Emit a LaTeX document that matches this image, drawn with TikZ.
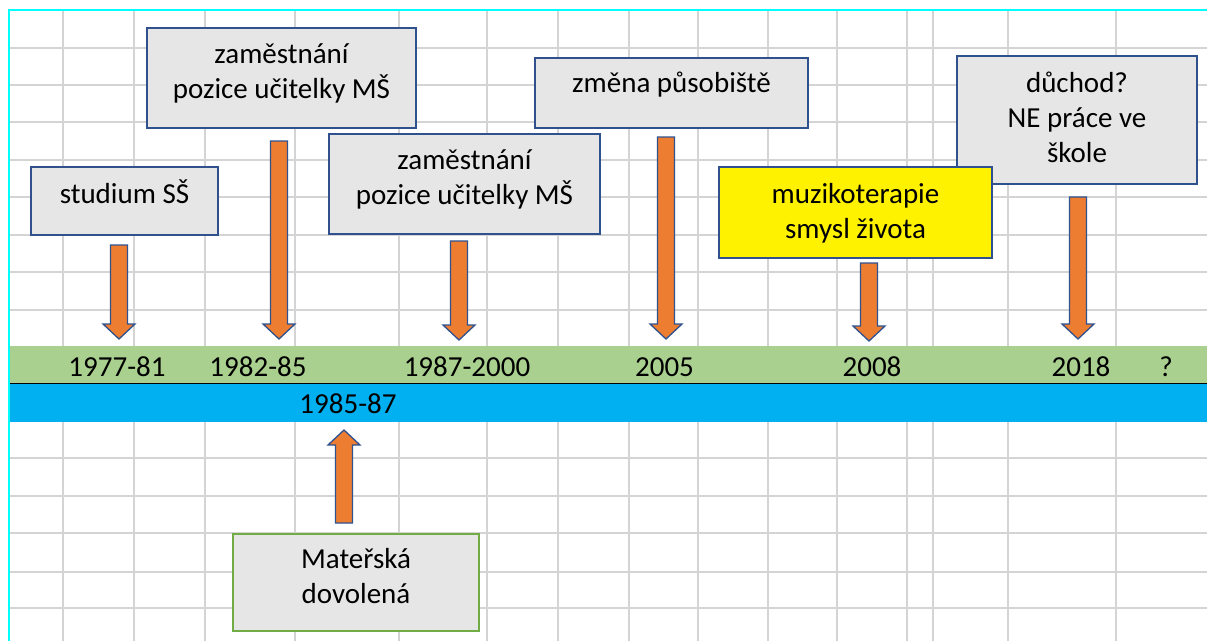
\documentclass[tikz,border=0pt]{standalone}
\usepackage{fontspec}
\setmainfont{Carlito}
\usetikzlibrary{calc}

\definecolor{gridgray}{HTML}{D4D4D4}
\definecolor{boxfill}{HTML}{E7E6E6}
\definecolor{boxline}{HTML}{2F528F}
\definecolor{arrowfill}{HTML}{ED7D31}
\definecolor{bandgreen}{HTML}{A9D08E}
\definecolor{bandblue}{HTML}{00B0F0}
\definecolor{framecyan}{HTML}{00FFFF}
\definecolor{leavegreen}{HTML}{70AD47}

\tikzset{
  gridline/.style={draw=gridgray, line width=1.2pt},
  eventbox/.style={draw=boxline, line width=2pt, fill=boxfill, inner sep=0pt, anchor=north west},
  boxtext/.style={anchor=base, inner sep=0pt, align=flush center, font=\fontsize{29}{35}\selectfont},
  yeartext/.style={anchor=base, inner sep=0pt, font=\fontsize{29}{35}\selectfont},
  blockarrow/.style={draw=boxline, line width=1.3pt, fill=arrowfill, line join=miter},
}

% block arrow from #1 (tail) to #2 (tip)
\newcommand\orangearrow[2]{%
  \path ($(#2)!15pt!(#1)$) coordinate (ah);
  \draw[blockarrow]
    ($(#1)!8.5pt!90:(#2)$) -- ($(ah)!8.5pt!90:(#2)$) -- ($(ah)!16pt!90:(#2)$) --
    (#2) --
    ($(ah)!16pt!-90:(#2)$) -- ($(ah)!8.5pt!-90:(#2)$) -- ($(#1)!8.5pt!-90:(#2)$) -- cycle;}

\begin{document}
\begin{tikzpicture}[x=1pt, y=-1pt]
\useasboundingbox (0,0) rectangle (1207,641);
\fill[white] (0,0) rectangle (1207,641);

% sheet grid
\foreach \x in {63,134,205,295,399,487,558,629,698,768,837,907,933,1008,1116}
  \draw[gridline] (\x,10) -- (\x,641);
\foreach \y in {48,85,122,160,197,235,272,310,458,496,533,572,608}
  \draw[gridline] (10,\y) -- (1207,\y);

% frame
\draw[framecyan, line width=2.2pt] (9,641) -- (9,10) -- (1207,10);

% timeline bands
\fill[bandgreen] (10,346) rectangle (1207,383);
\fill[bandblue] (10,384) rectangle (1207,422);
\draw[black, line width=1.2pt] (10,383.5) -- (1207,383.5);

% years
\node[yeartext] (y1) at (117,376) {1977-81};
\node[yeartext] (y2) at (258,376) {1982-85};
\node[yeartext] (y3) at (467,376) {1987-2000};
\node[yeartext] (y4) at (664.5,376) {2005};
\node[yeartext] (y5) at (872,376) {2008};
\node[yeartext] (y6) at (1081,376) {2018};
\node[yeartext] (y7) at (1166,376) {?};
\node[yeartext] (y8) at (348,413) {1985-87};

% event boxes
\node[eventbox, minimum width=187pt, minimum height=68pt] (b1) at (30,166) {};
\node[boxtext, text width=180pt] (t1) at ($(b1.north)+(0,37)$) {studium SŠ};

\node[eventbox, minimum width=269pt, minimum height=100pt] (b2) at (146,27) {};
\node[boxtext, text width=260pt] (t2) at ($(b2.north)+(0,36)$) {zaměstnání\\pozice učitelky MŠ};

\node[eventbox, minimum width=271pt, minimum height=100pt] (b3) at (328,133) {};
\node[boxtext, text width=260pt] (t3) at ($(b3.north)+(0,36)$) {zaměstnání\\pozice učitelky MŠ};

\node[eventbox, minimum width=273pt, minimum height=70pt] (b4) at (534,57) {};
\node[boxtext, text width=260pt] (t4) at ($(b4.north)+(0,35)$) {změna působiště};

\node[eventbox, minimum width=240pt, minimum height=128pt] (b6) at (956,55) {};
\node[boxtext, text width=230pt] (t6) at ($(b6.north)+(0,37)$) {důchod?\\NE práce ve\\škole};

\node[eventbox, fill=yellow, minimum width=273pt, minimum height=91pt] (b5) at (718,166) {};
\node[boxtext, text width=260pt] (t5) at ($(b5.north)+(0,37)$) {muzikoterapie\\smysl života};

\node[eventbox, draw=leavegreen, minimum width=246pt, minimum height=97pt] (b7) at (232,533) {};
\node[boxtext, text width=236pt] (t7) at ($(b7.north)+(0,35)$) {Mateřská\\dovolená};

% arrow ends
\coordinate (a1s) at (119,245);  \coordinate (a1e) at (119,339);
\coordinate (a2s) at (279,141);  \coordinate (a2e) at (279,339);
\coordinate (a3s) at (459,241);  \coordinate (a3e) at (459,340);
\coordinate (a4s) at (666,137);  \coordinate (a4e) at (666,339);
\coordinate (a5s) at (869,263);  \coordinate (a5e) at (869,341);
\coordinate (a6s) at (1078,197); \coordinate (a6e) at (1078,339);
\coordinate (a7s) at (344,523);  \coordinate (a7e) at (344,430);

\orangearrow{a1s}{a1e}
\orangearrow{a2s}{a2e}
\orangearrow{a3s}{a3e}
\orangearrow{a4s}{a4e}
\orangearrow{a5s}{a5e}
\orangearrow{a6s}{a6e}
\orangearrow{a7s}{a7e}
\end{tikzpicture}
\end{document}
